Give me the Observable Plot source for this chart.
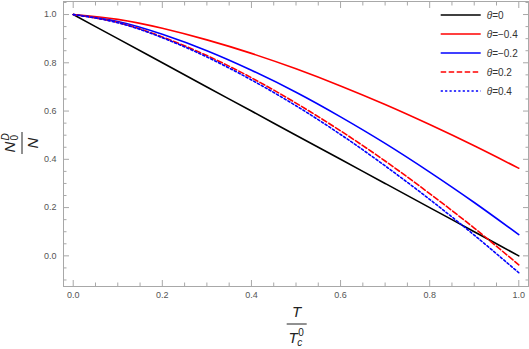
<!DOCTYPE html>
<html><head><meta charset="utf-8">
<script src="https://cdn.jsdelivr.net/npm/d3@7"></script>
<script src="https://cdn.jsdelivr.net/npm/@observablehq/plot@0.6"></script>
<style>
body{margin:0;background:#fff;}
#wrap{position:relative;width:529px;height:349px;}
</style></head><body><div id="wrap"></div>
<script>
// T / Tc0 sample points
const tValues = [0, 0.1, 0.2, 0.3, 0.4, 0.5, 0.6, 0.7, 0.8, 0.9, 1.0];
// series values
const theta0    = [1, 0.900, 0.800, 0.700, 0.600, 0.500, 0.400, 0.300, 0.200, 0.100, 0.000];
const thetaM04  = [1, 0.980, 0.943, 0.895, 0.839, 0.775, 0.704, 0.627, 0.544, 0.456, 0.363];
const thetaM02  = [1, 0.971, 0.918, 0.850, 0.769, 0.678, 0.576, 0.466, 0.347, 0.221, 0.088];
const thetaP02  = [1, 0.967, 0.907, 0.830, 0.738, 0.633, 0.518, 0.393, 0.258, 0.115, -0.037];
const thetaP04  = [1, 0.966, 0.904, 0.824, 0.729, 0.622, 0.503, 0.373, 0.234, 0.086, -0.070];
const seriesLabels = ["θ=0", "θ=−0.4", "θ=−0.2", "θ=0.2", "θ=0.4"];
const seriesValues = [theta0, thetaM04, thetaM02, thetaP02, thetaP04];
const seriesColors = ["#000000", "#ff0000", "#0000ff", "#ff0000", "#0000ff"];
const seriesDash = [null, null, null, "5.5,2.5", "2.2,2.2"];
// tick labels
const xMajorTicks = [0, 0.2, 0.4, 0.6, 0.8, 1.0];
const yMajorTicks = [0, 0.2, 0.4, 0.6, 0.8, 1.0];
const xMinorTicks = [0.05,0.1,0.15,0.25,0.3,0.35,0.45,0.5,0.55,0.65,0.7,0.75,0.85,0.9,0.95];
const yMinorTicks = [-0.1,-0.05,0.05,0.1,0.15,0.25,0.3,0.35,0.45,0.5,0.55,0.65,0.7,0.75,0.85,0.9,0.95,1.05];

const rows = [];
seriesValues.forEach((vals, i) => vals.forEach((v, j) => rows.push({t: tValues[j], v, s: seriesLabels[i]})));

const FONT = '"Liberation Sans", Arial, sans-serif';
const fmt = d3.format(".1f");
const tickColor = "#a8a8a8";
const maj = 6, mnr = 3.5;

function ticks(anchor, list, size) {
  const o = {anchor, ticks: list, tickSize: size, text: null, label: null, stroke: tickColor, strokeWidth: 1};
  if (anchor === "bottom") o.dy = -size;
  if (anchor === "top") o.dy = size;
  if (anchor === "left") o.dx = size;
  if (anchor === "right") o.dx = -size;
  return (anchor === "bottom" || anchor === "top") ? Plot.axisX(o) : Plot.axisY(o);
}

const lineMarks = seriesLabels.map((lab, i) =>
  Plot.line(rows.filter(d => d.s === lab), {
    x: "t", y: "v", stroke: seriesColors[i], strokeWidth: 1.6,
    strokeDasharray: seriesDash[i], curve: "natural"
  })
);

const chart = Plot.plot({
  width: 529, height: 349,
  marginLeft: 63, marginRight: 1, marginTop: 1, marginBottom: 63,
  x: {domain: [-0.0218, 1.0218]},
  y: {domain: [-0.127, 1.054]},
  style: {fontFamily: FONT, fontSize: "9px", color: "#555", background: "white"},
  marks: [
    ticks("bottom", xMajorTicks, maj), ticks("bottom", xMinorTicks, mnr),
    ticks("top", xMajorTicks, maj), ticks("top", xMinorTicks, mnr),
    ticks("left", yMajorTicks, maj), ticks("left", yMinorTicks, mnr),
    ticks("right", yMajorTicks, maj), ticks("right", yMinorTicks, mnr),
    Plot.axisX({anchor: "bottom", ticks: xMajorTicks, tickSize: 0, tickPadding: 5, tickFormat: fmt, fill: "#555", label: null}),
    Plot.axisY({anchor: "left", ticks: yMajorTicks, tickSize: 0, tickPadding: 7, tickFormat: fmt, fill: "#555", label: null}),
    ...lineMarks,
    Plot.frame({stroke: tickColor, strokeWidth: 1})
  ]
});
document.getElementById("wrap").appendChild(chart);

const svg = d3.select(chart);
const ink = "#222";

// x-axis label: T / T_c^0
const gx = svg.append("g").attr("font-family", FONT).attr("fill", ink).attr("text-anchor", "start");
gx.append("text").attr("x", 296.7).attr("y", 317).attr("text-anchor", "middle")
  .attr("font-size", 15).attr("font-style", "italic").text("T");
gx.append("line").attr("x1", 286.7).attr("x2", 306.7).attr("y1", 324).attr("y2", 324)
  .attr("stroke", ink).attr("stroke-width", 1);
gx.append("text").attr("x", 288.5).attr("y", 342.5).attr("font-size", 15).attr("font-style", "italic").text("T");
gx.append("text").attr("x", 298.3).attr("y", 336).attr("font-size", 10).text("0");
gx.append("text").attr("x", 297.2).attr("y", 346).attr("font-size", 10).attr("font-style", "italic").text("c");

// y-axis label: N_0^D / N (rotated)
const gy = svg.append("g").attr("font-family", FONT).attr("fill", ink).attr("text-anchor", "start")
  .attr("transform", "translate(22,143) rotate(-90)");
gy.append("text").attr("x", -9.5).attr("y", -7).attr("font-size", 15).attr("font-style", "italic").text("N");
gy.append("text").attr("x", 2.5).attr("y", -13.5).attr("font-size", 10).attr("font-style", "italic").text("D");
gy.append("text").attr("x", 2.5).attr("y", -4.5).attr("font-size", 10).text("0");
gy.append("line").attr("x1", -11).attr("x2", 11).attr("y1", 0).attr("y2", 0)
  .attr("stroke", ink).attr("stroke-width", 1);
gy.append("text").attr("x", 0).attr("y", 16).attr("text-anchor", "middle")
  .attr("font-size", 15).attr("font-style", "italic").text("N");

// legend
const gl = svg.append("g").attr("font-family", FONT).attr("font-size", 10).attr("fill", "#333").attr("text-anchor", "start");
seriesLabels.forEach((lab, i) => {
  const y = 15 + i * 19;
  gl.append("line").attr("x1", 440.7).attr("x2", 480.7).attr("y1", y).attr("y2", y)
    .attr("stroke", seriesColors[i]).attr("stroke-width", 1.6)
    .attr("stroke-dasharray", seriesDash[i]);
  const t = gl.append("text").attr("x", 486.7).attr("y", y).attr("dy", "0.35em");
  t.append("tspan").attr("font-style", "italic").text(lab.slice(0, 1));
  t.append("tspan").text(lab.slice(1));
});
</script>
</body></html>
